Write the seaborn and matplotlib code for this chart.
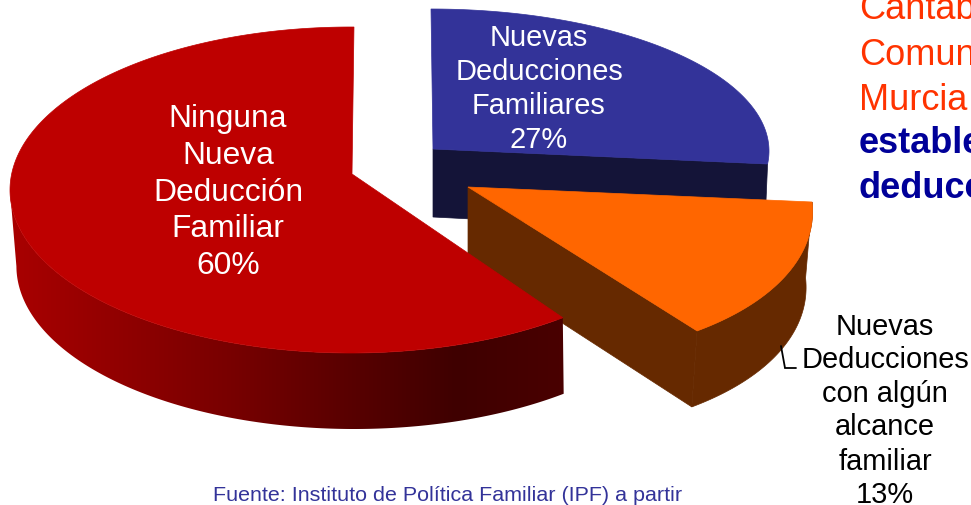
import numpy as np
import matplotlib
matplotlib.use("Agg")
import matplotlib.pyplot as plt
from matplotlib.patches import Polygon
import seaborn as sns

categories = ["Nuevas Deducciones Familiares", "Nuevas Deducciones con algún alcance familiar", "Ninguna Nueva Deducción Familiar"]
shares = [27, 13, 60]
blue_label = ["Nuevas", "Deducciones", "Familiares", "27%"]
orange_label = ["Nuevas", "Deducciones", "con algún", "alcance", "familiar", "13%"]
red_label = ["Ninguna", "Nueva", "Deducción", "Familiar", "60%"]
side_lines = ["Cantab", "Comun", "Murcia", "estable", "deducc"]
source = "Fuente: Instituto de Política Familiar (IPF) a partir"

sns.set_theme(style="white")
plt.rcParams["font.family"] = ["Liberation Sans", "DejaVu Sans"]

fig = plt.figure(figsize=(9.71, 5.06), dpi=100)
ax = fig.add_axes([0, 0, 1, 1])
ax.axis("off")


def arc(share, geom, n=240):
    t0 = geom["t0"]
    span = geom["sign"] * share * 3.6 * geom["stretch"]
    t = np.radians(np.linspace(t0, t0 + span, n))
    x = geom["c"][0] + geom["m"][0] * np.cos(t) + geom["m"][1] * np.sin(t)
    y = geom["c"][1] + geom["m"][2] * np.cos(t) + geom["m"][3] * np.sin(t)
    return x, y


def lower_rim(x, y, depth, squeeze, cx):
    return cx + (x - cx) * squeeze + depth[0], y + depth[1]


# blue slice
g_blue = dict(c=(431, 152), m=(338, 0, 0, -142), t0=90, sign=-1, stretch=0.98)
bx, by = arc(shares[0], g_blue)
ax.fill([433, bx[-1], bx[-1] - 3, 433], [150, by[-1], by[-1] + 70, 218], color="#141438", lw=0.5, zorder=1)
ax.fill(np.r_[433, bx], np.r_[150, by], color="#333399", lw=0.5, zorder=2)

# orange slice
g_orange = dict(c=(468, 188), m=(344, -19, 15, -172), t0=0, sign=-1, stretch=1.1)
ox, oy = arc(shares[1], g_orange)
xb, yb = lower_rim(ox, oy, (-3, 76), 0.99, 468)
ax.fill(np.r_[ox, xb[::-1]], np.r_[oy, yb[::-1]], color="#662900", lw=0.5, zorder=3)
ax.fill([468, ox[-1], xb[-1], 468], [188, oy[-1], yb[-1], 263], color="#662900", lw=0.5, zorder=3)
ax.fill(np.r_[468, ox], np.r_[188, oy], color="#FF6600", lw=0.5, zorder=4)

# red slice: the rim is shaded left to right with a clipped gradient
g_red = dict(c=(351, 191), m=(341, 0, 0, -163), t0=89.5, sign=1, stretch=1.0134)
rx, ry = arc(shares[2], g_red, n=600)
vis = ry >= 191
xb, yb = lower_rim(rx[vis], ry[vis], (3, 76), 0.99, 351)
rim = Polygon(np.c_[np.r_[rx[vis], xb[::-1]], np.r_[ry[vis], yb[::-1]]], closed=True,
              facecolor="none", edgecolor="none", transform=ax.transData)
ax.add_patch(rim)
cmap = sns.blend_palette(["#AA0000", "#910000", "#780000", "#5A0000", "#3F0000", "#4A0000"], n_colors=256, as_cmap=True)
im = ax.imshow(np.linspace(0, 1, 256)[None, :], extent=(5, 570, 440, 180), cmap=cmap,
               aspect="auto", zorder=5, interpolation="bilinear")
im.set_clip_path(rim)
ax.fill(np.r_[352, rx], np.r_[175, ry], color="#BE0000", lw=0.5, zorder=6)

# slice labels
for txt, yy in zip(red_label, [127, 164, 201, 237, 274]):
    ax.text(228, yy, txt, color="white", fontsize=22.9, ha="center", va="baseline", zorder=8)
for txt, yy in zip(blue_label, [46, 80, 114, 148]):
    ax.text(539, yy, txt, color="white", fontsize=20.9, ha="center", va="baseline", zorder=8)
for txt, yy in zip(orange_label, [335, 368, 402, 435, 470, 503]):
    ax.text(885, yy, txt, color="black", fontsize=20.9, ha="center", va="baseline", zorder=8)
ax.plot([781, 785, 796], [347, 369, 369], color="black", lw=1.3, zorder=7, solid_joinstyle="miter")

# cropped call-out text at the right edge
styles = [("#FF3300", "normal")] * 3 + [("#000099", "bold")] * 2
for txt, yy, (col, wt) in zip(side_lines, [19, 65, 110, 153, 198], styles):
    ax.text(859, yy, txt, color=col, fontweight=wt, fontsize=26, ha="left", va="baseline", zorder=8)

ax.text(213, 501, source, color="#333399", fontsize=15.45, ha="left", va="baseline", zorder=8)

ax.set_xlim(0, 971)
ax.set_ylim(506, 0)
fig.savefig("out.png", dpi=100, facecolor="white")
